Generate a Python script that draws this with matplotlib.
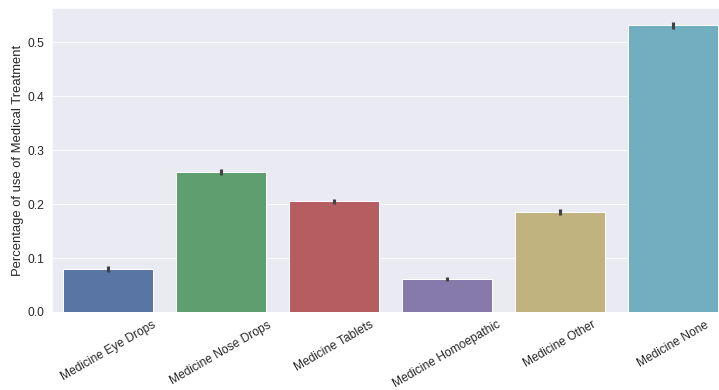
import matplotlib
matplotlib.use('Agg')
import matplotlib.pyplot as plt
import seaborn as sns
import numpy as np

# Share of respondents using each kind of medical treatment
treatments = ['Medicine Eye Drops', 'Medicine Nose Drops', 'Medicine Tablets',
              'Medicine Homoepathic', 'Medicine Other', 'Medicine None']
usage = [0.080, 0.259, 0.205, 0.061, 0.185, 0.531]
ci_half = [0.005, 0.006, 0.005, 0.004, 0.005, 0.006]

deep = ['#4C72B0', '#55A868', '#C44E52', '#8172B2', '#CCB974', '#64B5CD']

sns.set_style('darkgrid')
plt.rcParams['font.family'] = ['Liberation Sans', 'DejaVu Sans']

dpi = 72
fig = plt.figure(figsize=(719 / dpi, 390 / dpi), dpi=dpi)
ax = fig.add_axes([51.5 / 719, 1 - 312 / 390, 678 / 719, 304 / 390])

x = np.arange(len(treatments))
colors = [sns.desaturate(c, 0.75) for c in deep]
ax.bar(x, usage, width=0.8, color=colors, zorder=2)
for xi, v, e in zip(x, usage, ci_half):
    ax.plot([xi, xi], [v - e, v + e], color='.26', lw=3.1, solid_capstyle='butt', zorder=3)

ax.set_xlim(-0.5, len(treatments) - 0.5)
ax.set_ylim(0, 0.563)
ax.set_yticks([0.0, 0.1, 0.2, 0.3, 0.4, 0.5])
ax.xaxis.grid(False)
ax.set_xticks(x)
ax.set_xticklabels(treatments, rotation=30, fontsize=12, color='.15')
ax.tick_params(axis='y', labelsize=12, labelcolor='.15')
ax.set_ylabel('Percentage of use of Medical Treatment', fontsize=13, color='.15')

fig.savefig('out.png', dpi=dpi)
